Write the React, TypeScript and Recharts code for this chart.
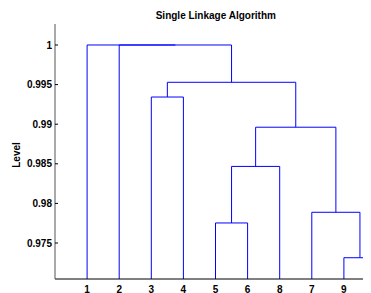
import React from 'react';
import { ComposedChart, Line, XAxis, YAxis } from 'recharts';

// Leaf labels in dendrogram order (position 1..10)
const leafOrder = [1, 2, 3, 4, 5, 6, 8, 7, 9, 10];
// Linkage: cluster 10+k joins mergeA[k-1] and mergeB[k-1] at mergeHeight[k-1]
const mergeA = [9, 5, 7, 12, 14, 3, 16, 2, 1];
const mergeB = [10, 6, 11, 8, 13, 4, 15, 17, 18];
const mergeHeight = [0.97314, 0.97753, 0.97888, 0.98467, 0.98962, 0.99343, 0.99529, 1.0, 1.0];
const yTicks = [0.975, 0.98, 0.985, 0.99, 0.995, 1];
// Tick labels visible in the picture (the 10th leaf is cut off at the right edge)
const xTicks = [1, 2, 3, 4, 5, 6, 7, 8, 9];
const yDomain = [0.970455, 1.00265];
const xDomain = [0, 10];
const titleText = 'Single Linkage Algorithm';
const yLabelText = 'Level';

const FONT = '"Liberation Sans", Arial, Helvetica, sans-serif';
const BLUE = '#0000ff';

const nLeaves = leafOrder.length;
const posX: Record<number, number> = {};
const posY: Record<number, number> = {};
leafOrder.forEach((leaf, i) => {
  posX[leaf] = i + 1;
  posY[leaf] = yDomain[0];
});
const segments = mergeA.map((a, k) => {
  const b = mergeB[k];
  const h = mergeHeight[k];
  const id = nLeaves + k + 1;
  posX[id] = (posX[a] + posX[b]) / 2;
  posY[id] = h;
  return [
    { x: posX[a], y: posY[a] },
    { x: posX[a], y: h },
    { x: posX[b], y: h },
    { x: posX[b], y: posY[b] },
  ];
});

const fmtY = (v: number) => (v === 1 ? '1' : String(v));

const YTick = (props: any) => {
  const { x, y, payload } = props;
  return (
    <g>
      <line x1={x} x2={x + 3} y1={y} y2={y} stroke="#000" />
      <text x={x - 3} y={y} dy="0.355em" textAnchor="end" fontFamily={FONT} fontWeight="bold" fontSize={10} fill="#000">
        {fmtY(payload.value)}
      </text>
    </g>
  );
};

const XTick = (props: any) => {
  const { x, y, payload } = props;
  const label = leafOrder[payload.value - 1];
  return (
    <text x={x} y={y + 13.5} textAnchor="middle" fontFamily={FONT} fontWeight="bold" fontSize={10} fill="#000">
      {label}
    </text>
  );
};

export default function App() {
  return (
    <div style={{ width: 363, height: 285, overflow: 'hidden', position: 'relative' }}>
      <ComposedChart width={380} height={300} margin={{ top: 16, right: 12, bottom: 0, left: 0 }}>
        <XAxis
          type="number"
          dataKey="x"
          domain={xDomain}
          ticks={xTicks}
          interval={0}
          allowDataOverflow
          tickLine={false}
          tickSize={0}
          tickMargin={0}
          height={29}
          stroke="#000"
          tick={<XTick />}
        />
        <YAxis
          type="number"
          dataKey="y"
          domain={yDomain}
          ticks={yTicks}
          interval={0}
          allowDataOverflow
          tickLine={false}
          tickSize={0}
          tickMargin={0}
          width={47}
          stroke="#555"
          tick={<YTick />}
        />
        {segments.map((seg, i) => (
          <Line
            key={i}
            data={seg}
            dataKey="y"
            type="linear"
            stroke={BLUE}
            strokeWidth={1}
            dot={false}
            activeDot={false}
            isAnimationActive={false}
          />
        ))}
        <text x={207.8} y={10.5} textAnchor="middle" fontFamily={FONT} fontWeight="bold" fontSize={10} fill="#000">
          {titleText}
        </text>
        <text
          x={8}
          y={147}
          dy="0.355em"
          textAnchor="middle"
          transform="rotate(-90, 8, 147)"
          fontFamily={FONT}
          fontWeight="bold"
          fontSize={10}
          fill="#000"
        >
          {yLabelText}
        </text>
      </ComposedChart>
    </div>
  );
}
